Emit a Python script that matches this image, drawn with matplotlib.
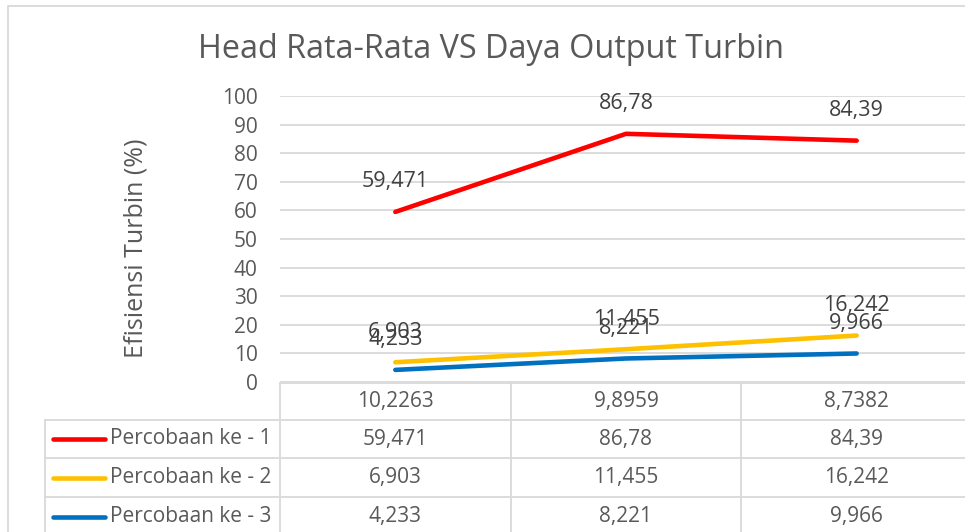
import matplotlib
matplotlib.use("Agg")
import matplotlib.pyplot as plt

plt.rcParams.update({
    "font.family": ["Open Sans", "DejaVu Sans"],
    "text.color": "#595959",
})

# Data
head = ["10,2263", "9,8959", "8,7382"]
seri_nama = ["Percobaan ke - 1", "Percobaan ke - 2", "Percobaan ke - 3"]
percobaan_1 = [59.471, 86.78, 84.39]
percobaan_2 = [6.903, 11.455, 16.242]
percobaan_3 = [4.233, 8.221, 9.966]
label_1 = ["59,471", "86,78", "84,39"]
label_2 = ["6,903", "11,455", "16,242"]
label_3 = ["4,233", "8,221", "9,966"]
y_ticks = list(range(0, 101, 10))

CORES = ["#FF0000", "#FFC000", "#0070C0"]
GRID = "#D9D9D9"
TEXTO = "#595959"

W, H = 965, 532
fig = plt.figure(figsize=(W / 100, H / 100), dpi=100)
fig.patch.set_facecolor("white")

# layout in pixels
left, right, top, base = 280, 972, 96, 382
ax = fig.add_axes([left / W, 1 - base / H, (right - left) / W, (base - top) / H])
x = list(range(len(head)))

series = [percobaan_1, percobaan_2, percobaan_3]
labels = [label_1, label_2, label_3]
for vals, labs, cor in zip(series, labels, CORES):
    ax.plot(x, vals, color=cor, linewidth=3.3, solid_capstyle="round", zorder=3)
    for xi, v, lab in zip(x, vals, labs):
        ax.annotate(lab, (xi, v), xytext=(0, 30), textcoords="offset pixels",
                    ha="center", va="center", fontsize=15.5, color="#404040")

ax.set_xlim(-0.5, len(head) - 0.5)
ax.set_ylim(0, 100)
ax.set_yticks(y_ticks)
ax.set_xticks([])
ax.tick_params(axis="y", length=0, pad=16, labelsize=15, labelcolor=TEXTO)
for s in ax.spines.values():
    s.set_visible(False)
ax.grid(axis="y", color=GRID, linewidth=1.3)
ax.set_axisbelow(True)
ax.set_ylabel("Efisiensi Turbin (%)", fontsize=18, color=TEXTO)
ax.yaxis.set_label_coords((148 - left) / (right - left), (base - 248) / (base - top))

fig.text(491 / W, 1 - 50 / H, "Head Rata-Rata VS Daya Output Turbin",
         ha="center", va="center", fontsize=23.3, color=TEXTO)

# table overlay in pixel coordinates
tb = fig.add_axes([0, 0, 1, 1], zorder=-1)
tb.set_xlim(0, W)
tb.set_ylim(H, 0)
tb.axis("off")

# chart frame
tb.plot([8, 8, 980], [540, 6, 6], color=GRID, linewidth=1.3)

rows = [383, 420, 458, 497, 536]
col_w = (right - left) / len(head)
cols = [left + i * col_w for i in range(len(head) + 1)]
leg_x = 45

tb.plot([left, right], [rows[0], rows[0]], color=GRID, linewidth=1.3)
for yr in rows[1:]:
    tb.plot([leg_x, right], [yr, yr], color=GRID, linewidth=1.3)
tb.plot([leg_x, leg_x], [rows[1], H + 5], color=GRID, linewidth=1.3)
for xc in cols:
    tb.plot([xc, xc], [rows[0], H + 5], color=GRID, linewidth=1.3)

for i, h in enumerate(head):
    tb.text(left + (i + 0.5) * col_w, (rows[0] + rows[1]) / 2, h,
            ha="center", va="center", fontsize=15, color=TEXTO)

for r, (nome, labs, cor) in enumerate(zip(seri_nama, labels, CORES)):
    yc = (rows[r + 1] + rows[r + 2]) / 2
    tb.plot([53, 105], [yc, yc], color=cor, linewidth=3.3, solid_capstyle="round")
    tb.text(110, yc, nome, ha="left", va="center", fontsize=15, color=TEXTO)
    for i, lab in enumerate(labs):
        tb.text(left + (i + 0.5) * col_w, yc, lab,
                ha="center", va="center", fontsize=15, color=TEXTO)

plt.savefig("out.png", dpi=100, facecolor="white")
plt.close()
